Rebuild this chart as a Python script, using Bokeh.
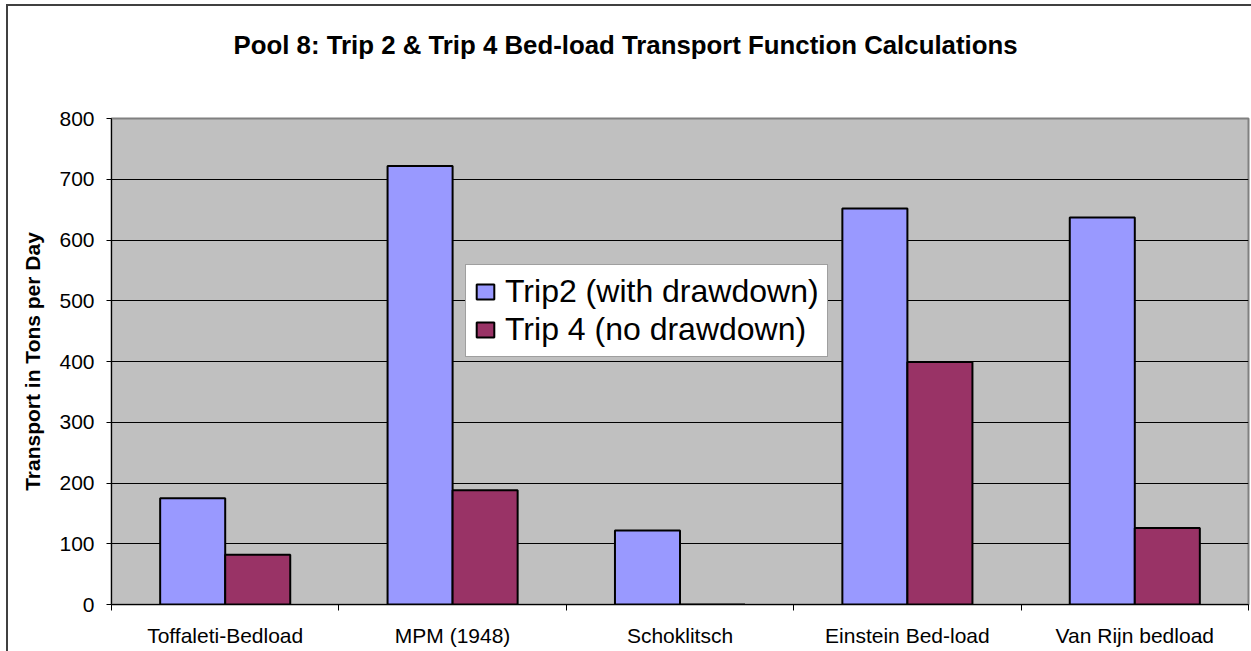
from bokeh.plotting import figure
from bokeh.models import (FixedTicker, Range1d, Legend, LegendItem,
                          ColumnDataSource, Title)
from bokeh.embed import file_html
from bokeh.resources import INLINE

categories = ["Toffaleti-Bedload", "MPM (1948)", "Schoklitsch", "Einstein Bed-load", "Van Rijn bedload"]
trip2 = [175, 722, 122, 652, 637]
trip4 = [82, 188, 0, 399, 126]
series_names = ["Trip2 (with drawdown)", "Trip 4 (no drawdown)"]
y_ticks = [0, 100, 200, 300, 400, 500, 600, 700, 800]
chart_title = "Pool 8: Trip 2 & Trip 4 Bed-load Transport Function Calculations"

FONT = "Liberation Sans"
BAR_W = 0.286

centers = [i + 0.5 for i in range(len(categories))]
src = ColumnDataSource(dict(
    x2=[c - BAR_W / 2 for c in centers],
    x4=[c + BAR_W / 2 for c in centers],
    trip2=trip2, trip4=trip4,
))

p = figure(width=1251, height=651, output_backend="svg", toolbar_location=None,
           x_range=Range1d(0, len(categories)), y_range=Range1d(0, 800),
           min_border_left=111, min_border_right=3, min_border_top=118, min_border_bottom=47)

# outer chart border on the left and top (drawn behind a transparent border fill)
p.styles = {
    "background": ("linear-gradient(#404040, #404040) 6px 4px / 2px 100% no-repeat, "
                   "linear-gradient(#404040, #404040) 6px 4px / 100% 2px no-repeat, white"),
}

# spacer between frame and title, then the title itself (stacked outward)
p.add_layout(Title(text=" ", text_font_size="1px", standoff=57), "above")
p.add_layout(Title(text=chart_title, text_font=FONT, text_font_size="25.8px",
                   text_font_style="bold", text_color="black", align="left",
                   offset=122, standoff=0), "above")

p.background_fill_color = "#c0c0c0"
p.border_fill_color = "white"
p.border_fill_alpha = 0
p.outline_line_color = "#808080"
p.outline_line_width = 2

# grid
p.xgrid.visible = False
p.ygrid.ticker = FixedTicker(ticks=y_ticks)
p.ygrid.grid_line_color = "black"
p.ygrid.grid_line_width = 1

# y axis
p.yaxis.ticker = FixedTicker(ticks=y_ticks)
p.yaxis.major_label_text_font = FONT
p.yaxis.major_label_text_font_size = "21px"
p.yaxis.major_label_text_color = "black"
p.yaxis.major_tick_out = 5
p.yaxis.major_tick_in = 0
p.yaxis.minor_tick_line_color = None
p.yaxis.major_tick_line_color = "black"
p.yaxis.axis_line_color = "black"
p.yaxis.major_label_standoff = 12
p.yaxis.axis_label = "Transport in Tons per Day"
p.yaxis.axis_label_text_font = FONT
p.yaxis.axis_label_text_font_size = "21px"
p.yaxis.axis_label_text_font_style = "bold"
p.yaxis.axis_label_text_color = "black"
p.yaxis.axis_label_standoff = 12

# x axis
p.xaxis.ticker = FixedTicker(ticks=centers, minor_ticks=list(range(len(categories) + 1)))
p.xaxis.major_label_overrides = {c: name for c, name in zip(centers, categories)}
p.xaxis.major_label_text_font = FONT
p.xaxis.major_label_text_font_size = "21px"
p.xaxis.major_label_text_color = "black"
p.xaxis.major_tick_line_color = None
p.xaxis.major_tick_out = 0
p.xaxis.major_tick_in = 0
p.xaxis.minor_tick_out = 6
p.xaxis.minor_tick_in = 0
p.xaxis.minor_tick_line_color = "black"
p.xaxis.axis_line_color = "black"
p.xaxis.major_label_standoff = 13

r2 = p.vbar(x="x2", top="trip2", width=BAR_W, bottom=0, source=src,
            fill_color="#9999ff", line_color="black", line_width=2)
r4 = p.vbar(x="x4", top="trip4", width=BAR_W, bottom=0, source=src,
            fill_color="#993366", line_color="black", line_width=2)

legend = Legend(items=[LegendItem(label=series_names[0], renderers=[r2]),
                       LegendItem(label=series_names[1], renderers=[r4])],
                location=(354, 247))
legend.label_text_font = FONT
legend.label_text_font_size = "32px"
legend.label_text_color = "black"
legend.glyph_width = 22
legend.glyph_height = 19
legend.label_height = 34
legend.label_standoff = 9
legend.spacing = 1
legend.padding = 8
legend.margin = 0
legend.border_line_color = "#404040"
legend.border_line_width = 1
legend.background_fill_color = "white"
legend.background_fill_alpha = 1
p.add_layout(legend)

open("out.html", "w").write(file_html(p, INLINE))
